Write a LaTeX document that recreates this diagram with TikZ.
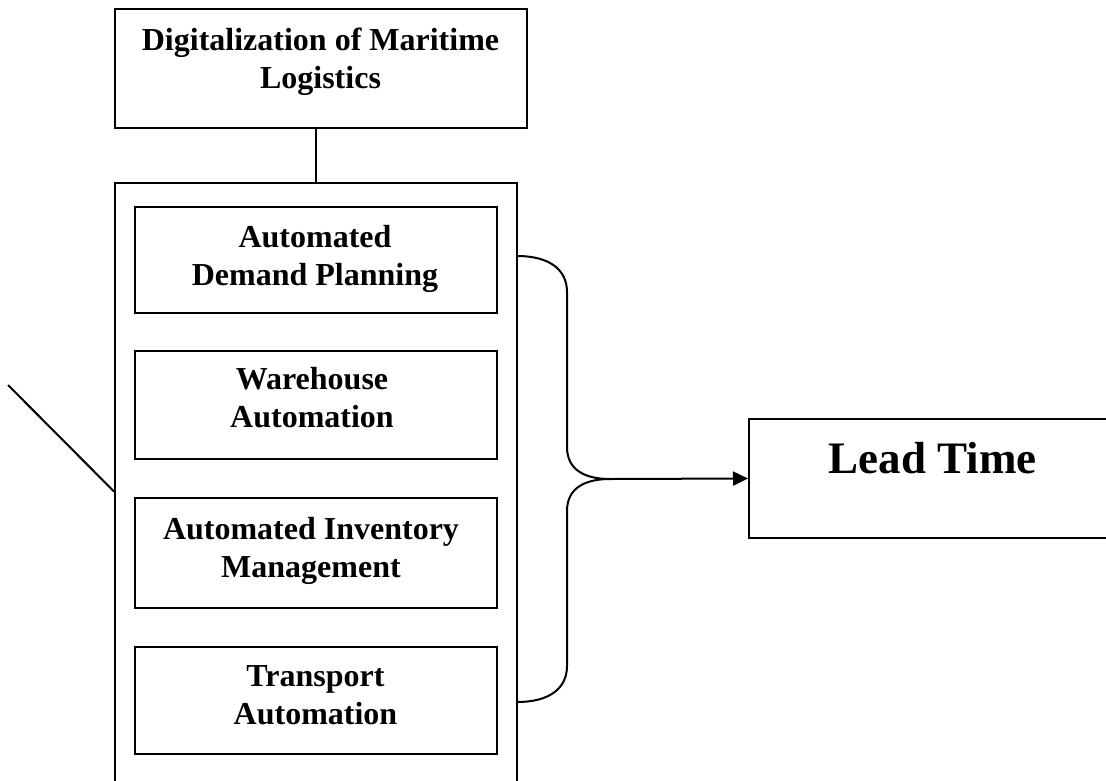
\documentclass[tikz,border=0pt]{standalone}
\usepackage{fontspec}
\setmainfont{Liberation Serif}
\usetikzlibrary{arrows.meta,calc}

\tikzset{
  frame/.style={draw=black, line width=2pt, rectangle, inner sep=0pt},
  label32/.style={font=\fontsize{32}{38}\selectfont\bfseries, align=center, inner sep=0pt},
  label45/.style={font=\fontsize{45}{52}\selectfont\bfseries, align=center, inner sep=0pt},
  wire/.style={draw=black, line width=2pt},
}

\begin{document}
\begin{tikzpicture}[x=1pt, y=-1pt]
  \useasboundingbox (0,0) rectangle (1106,780);

  % heading box
  \node[frame, minimum width=412pt, minimum height=119pt] (top) at (321,68.5) {};
  \node[label32] (toptext) at (320.5,61.5) {Digitalization of Maritime\\Logistics};

  % container holding the four automation areas (runs past the lower edge)
  \node[frame, minimum width=402pt, minimum height=617pt] (outer) at (316,491.5) {};

  % automation areas
  \node[frame, minimum width=362pt, minimum height=106pt] (demand) at (316,260) {};
  \node[label32] (demandtext) at (315,258.5) {Automated\\Demand Planning};

  \node[frame, minimum width=362pt, minimum height=108pt] (warehouse) at (316,405) {};
  \node[label32] (warehousetext) at (312,398) {Warehouse\\Automation};

  \node[frame, minimum width=362pt, minimum height=110pt] (inventory) at (316,553) {};
  \node[label32] (inventorytext) at (311,550.5) {Automated Inventory\\Management};

  \node[frame, minimum width=362pt, minimum height=107pt] (transport) at (316,700.5) {};
  \node[label32] (transporttext) at (315.5,695) {Transport\\Automation};

  % outcome box (runs past the right edge)
  \node[frame, minimum width=366pt, minimum height=119pt] (lead) at (932,478.5) {};
  \node[label45] (leadtext) at (932.5,458) {Lead Time};

  % link between heading and container
  \draw[wire] (top.south -| outer.north) -- (outer.north);

  % slanted stroke meeting the container on the left
  \coordinate (slant) at (8,385);
  \draw[wire] (slant) -- (outer.west);

  % curly brace gathering the four areas
  \coordinate (bracetop) at (517,256);
  \coordinate (bracebot) at (517,702);
  \coordinate (tip) at (610,479);
  \draw[wire]
    (bracetop) .. controls (550,256) and (567,270) .. (567,292)
    -- (567,447) .. controls (567,470) and (585,479) .. (tip)
    .. controls (585,479) and (567,488) .. (567,511)
    -- (567,666) .. controls (567,688) and (550,702) .. (bracebot);

  % arrow to the outcome
  \draw[wire, -{Triangle[length=15pt, width=14pt]}] (tip) -- (lead.west);
\end{tikzpicture}
\end{document}
